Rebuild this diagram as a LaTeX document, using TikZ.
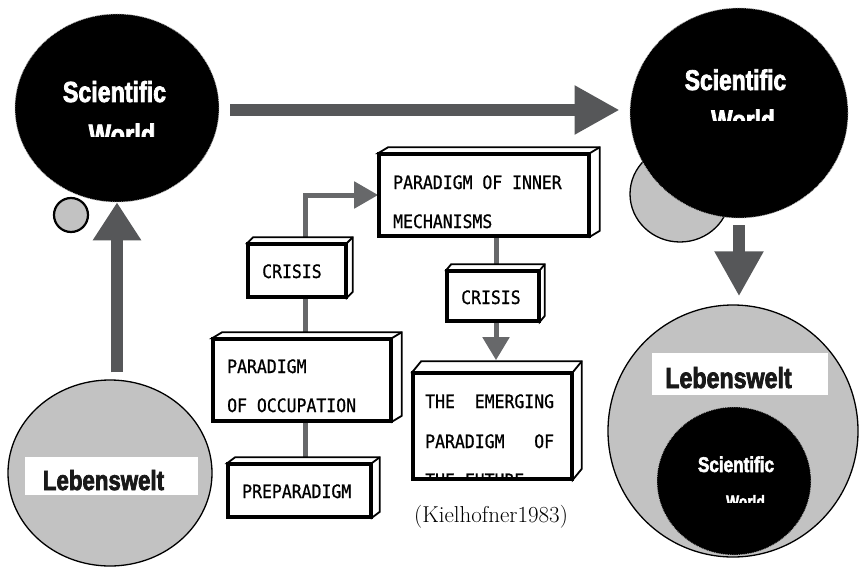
\documentclass[tikz,border=0pt]{standalone}
\usepackage{fontspec}
\usepackage{tikz}
\usetikzlibrary{arrows.meta,shapes.geometric}
\newfontfamily\condfont{Liberation Sans Bold}[FakeStretch=0.8, FakeBold=2.5]
\newfontfamily\boxfont{DejaVu Sans Mono}[FakeStretch=0.89, FakeBold=0.8]
\newcommand{\wfont}[1]{\condfont\fontsize{#1}{#1}\selectfont}
\definecolor{arrowgray}{RGB}{86,87,89}
\definecolor{dotgray}{RGB}{194,194,194}

\begin{document}
\begin{tikzpicture}[x=1pt, y=-1pt]
    \tikzstyle{black_world} = [ellipse, fill=black, draw=gray!55, densely dotted, line width=0.8pt, inner sep=0]
    \tikzstyle{life_world} = [ellipse, fill=dotgray, draw=black, line width=1.3pt, inner sep=0]
    \tikzstyle{label_bar} = [rectangle, fill=white, inner sep=0]
    \tikzstyle{world_text} = [text=white, anchor=base, inner sep=0]
    \tikzstyle{life_text} = [text=black!90, anchor=base, inner sep=0]
    \tikzstyle{box_style} = [rectangle, draw=black, fill=white, line width=2.6pt, inner sep=0]
    \tikzstyle{face_style} = [draw=black, fill=white, line width=1.8pt, line join=miter]
    \tikzstyle{box_text} = [font=\boxfont\fontsize{18.5}{20}\selectfont, anchor=base west, inner sep=0]
    \tikzstyle{big_arrow} = [draw=arrowgray, line width=12pt]
    \tikzstyle{link_style} = [draw=arrowgray!90, line width=5pt]
    \useasboundingbox (0,0) rectangle (861,567);

    \node[life_world, minimum width=100pt, minimum height=96pt] (dotR) at (680,194) {};
    \node[black_world, minimum width=204pt, minimum height=188pt] (sciL) at (117,108) {};
    \node[black_world, minimum width=218pt, minimum height=210pt] (sciR) at (739,113) {};
    \node[life_world, minimum size=34pt, line width=2.2pt] (dotL) at (71,215) {};
    \node[life_world, minimum width=204pt, minimum height=186pt] (lifeL) at (110,473) {};
    \node[life_world, minimum width=250pt, minimum height=252pt] (lifeR) at (733,431) {};
    \node[label_bar, minimum width=173pt, minimum height=38pt] (barL) at (111.5,476) {};
    \node[label_bar, minimum width=176pt, minimum height=42pt] (barR) at (740,374) {};
    \node[black_world, minimum width=154pt, minimum height=148pt] (sciIn) at (734,481) {};

    \node[world_text, font=\wfont{29}] (sciLa) at (114.5,102) {Scientific};
    \node[world_text, font=\wfont{28.5}] (sciRa) at (735.5,90) {Scientific};
    \node[world_text, font=\wfont{21.4}] (sciIna) at (736,472) {Scientific};
    \begin{scope}
      \clip (0,0) rectangle (240,136);
      \node[world_text, font=\wfont{29.6}] (sciLb) at (122,145) {World};
    \end{scope}
    \begin{scope}
      \clip (600,0) rectangle (861,120);
      \node[world_text, font=\wfont{28.2}] (sciRb) at (743,130) {World};
    \end{scope}
    \begin{scope}
      \clip (600,480) rectangle (861,502);
      \node[world_text, font=\wfont{17.2}] (sciInb) at (745.5,507.5) {World};
    \end{scope}
    \node[life_text, font=\wfont{27.8}] (lifeLa) at (103.5,490) {Lebenswelt};
    \node[life_text, font=\wfont{29}] (lifeRa) at (728.5,388) {Lebenswelt};

    \draw[big_arrow, -{Triangle[length=45pt, width=46pt]}, shorten <=11pt, shorten >=10pt] (sciL.east |- 0,110) -- (sciR.west |- 0,110);
    \draw[big_arrow, -{Triangle[length=38pt, width=46pt]}, shorten <=7pt] (sciL.south |- lifeL.north) -- (sciL.south);
    \draw[big_arrow, -{Triangle[length=45pt, width=46pt]}, shorten <=7pt, shorten >=8pt] (sciR.south) -- (sciR.south |- lifeR.north);

    \node[box_style, minimum width=209pt, minimum height=81pt] (inner) at (484,195) {};
    \node[box_style, minimum width=97pt, minimum height=52pt] (crisisA) at (297,270.5) {};
    \node[box_style, minimum width=177pt, minimum height=81pt] (occ) at (302,380) {};
    \node[box_style, minimum width=142pt, minimum height=52pt] (prep) at (299.5,490.5) {};
    \node[box_style, minimum width=91pt, minimum height=49pt] (crisisB) at (493,296) {};
    \node[box_style, minimum width=158pt, minimum height=105pt] (emerg) at (492.5,426) {};

    \coordinate (spineA) at (305,0);
    \coordinate (spineB) at (496,0);
    \draw[link_style, -{Triangle[length=24pt, width=26pt]}] (crisisA.north -| spineA) |- (inner.west);
    \draw[link_style] (crisisA.south -| spineA) -- (occ.north -| spineA);
    \draw[link_style] (occ.south -| spineA) -- (prep.north -| spineA);
    \draw[link_style] (inner.south -| spineB) -- (crisisB.north -| spineB);
    \draw[link_style, -{Triangle[length=23pt, width=26pt]}, shorten >=12pt] (crisisB.south -| spineB) -- (emerg.north -| spineB);

    \foreach \b/\dx/\dy in {inner/10/6, crisisA/6/6, occ/10/6, prep/8/6, crisisB/5/6, emerg/9/11} {
      \draw[face_style] (\b.north west) -- ++(\dx,-\dy) -- ([shift={(\dx,-\dy)}]\b.north east)
        -- ([shift={(\dx,-\dy)}]\b.south east) -- (\b.south east) -- (\b.north east) -- cycle;
      \draw[face_style] (\b.north east) -- ++(\dx,-\dy);
      \draw[black, line width=2.6pt] (\b.north west) rectangle (\b.south east);
    }

    \node[box_text] (innerA) at (393,189) {PARADIGM OF INNER};
    \node[box_text] (innerB) at (393,228) {MECHANISMS};
    \node[box_text] (crisisAa) at (262,278) {CRISIS};
    \node[box_text] (occA) at (227,373) {PARADIGM};
    \node[box_text] (occB) at (227,412) {OF OCCUPATION};
    \node[box_text] (prepA) at (242,498) {PREPARADIGM};
    \node[box_text] (crisisBa) at (461,304) {CRISIS};
    \begin{scope}
      \clip (emerg.north west) rectangle ([yshift=1.3pt]emerg.south east);
      \node[box_text] (emergA) at (425,408) {THE~~EMERGING};
      \node[box_text] (emergB) at (425,448) {PARADIGM~~~OF};
      \node[box_text] (emergC) at (425,487) {THE FUTURE};
    \end{scope}

    \node[font=\fontsize{23}{26}\selectfont] (cite) at (491,517) {(Kielhofner1983)};
\end{tikzpicture}
\end{document}
